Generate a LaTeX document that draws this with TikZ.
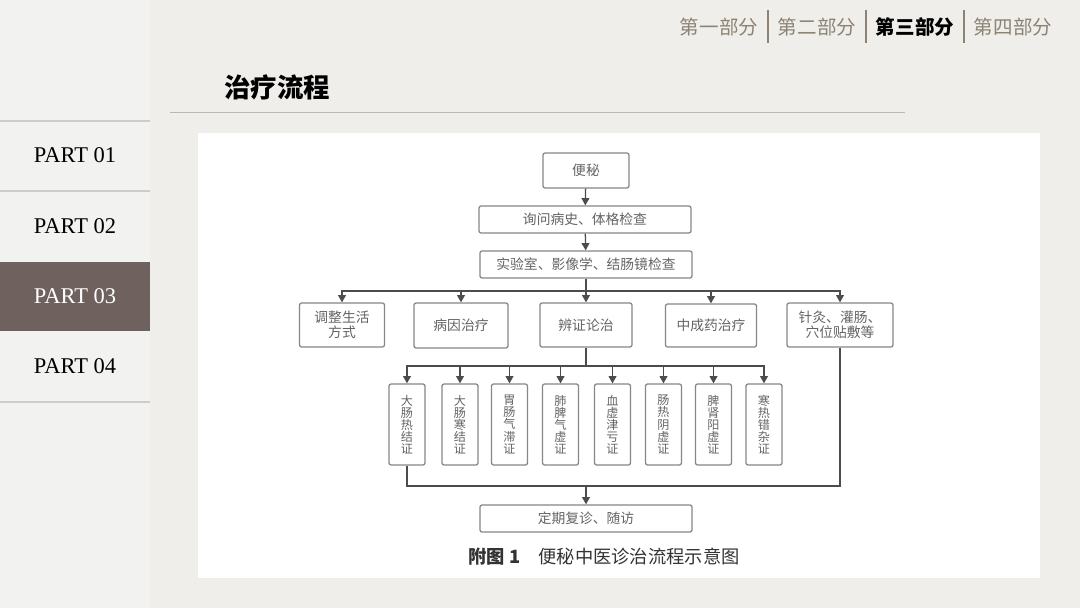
\documentclass[tikz,border=0pt]{standalone}
\usepackage{fontspec}
\setmainfont{Liberation Serif}
\newfontfamily\cjk{Noto Sans CJK SC}
\usepackage{xcolor}
\usetikzlibrary{arrows.meta, positioning, calc}
\definecolor{pagebg}{RGB}{239, 238, 234}
\definecolor{sidebg}{RGB}{242, 242, 241}
\definecolor{navgray}{RGB}{140, 131, 115}
\definecolor{partbrown}{RGB}{111, 97, 94}
\definecolor{rulegray}{RGB}{206, 204, 200}
\definecolor{boxgray}{RGB}{135, 135, 135}
\definecolor{flowtext}{RGB}{100, 100, 100}

\begin{document}
\begin{tikzpicture}[
  x=0.025cm, y=-0.025cm,
  every node/.style={inner sep=0pt},
  nav/.style={font=\cjk\fontsize{13.9}{16}\selectfont, text=navgray},
  part/.style={font=\fontsize{16}{18}\selectfont, text=black},
  flowbox/.style={draw=boxgray, line width=0.9pt, rounded corners=1.5pt, fill=white, align=center, text=flowtext, font=\cjk\fontsize{9.8}{10.5}\selectfont},
  vbox/.style={flowbox, minimum width=0.9cm, minimum height=2.025cm, font=\cjk\fontsize{8.6}{8.6}\selectfont},
  arrow/.style={-{Triangle[length=5.2pt, width=5.6pt]}, line width=0.9pt, draw=black!70},
  link/.style={line width=0.9pt, draw=black!70}
]
  \useasboundingbox (0,0) rectangle (1080,608);
  \fill[pagebg] (0,0) rectangle (1080,608);
  \fill[sidebg] (0,0) rectangle (150,608);

  % Seitenleiste
  \draw[rulegray, line width=1.4pt] (0,121) -- (150,121);
  \draw[rulegray, line width=1.4pt] (0,191) -- (150,191);
  \draw[rulegray, line width=1.4pt] (0,402) -- (150,402);
  \fill[partbrown] (0,262) rectangle (150,331);
  \node[part] (p1) at (75,155) {PART 01};
  \node[part] (p2) at (75,226) {PART 02};
  \node[part, text=white] (p3) at (75,296) {PART 03};
  \node[part] (p4) at (75,366) {PART 04};

  % Navigation
  \node[nav] (n1) at (719,27) {第一部分};
  \node[nav] (n2) at (817,27) {第二部分};
  \node[nav, text=black, font=\cjk\bfseries\fontsize{13.9}{16}\selectfont] (n3) at (915,27) {第三部分};
  \node[nav] (n4) at (1013,27) {第四部分};
  \foreach \sx in {768, 866, 964}
    \draw[navgray, line width=0.8pt] (\sx,10) -- (\sx,43);

  % Titel
  \node[font=\cjk\bfseries\fontsize{18.8}{22}\selectfont] (title) at (277,87) {治疗流程};
  \draw[rulegray!90!black, line width=0.7pt] (170,112) -- (905,112);

  \fill[white] (198,133) rectangle (1040,578);

  % Ablauf
  \node[flowbox, minimum width=2.15cm, minimum height=0.875cm] (start) at (586,170.5) {便秘};
  \node[flowbox, minimum width=5.3cm, minimum height=0.675cm] (history) at (585,219.5) {询问病史、体格检查};
  \node[flowbox, minimum width=5.3cm, minimum height=0.675cm] (exam) at (586,264.5) {实验室、影像学、结肠镜检查};

  \node[flowbox, minimum width=2.125cm, minimum height=1.1cm] (life) at (342,325) {调整生活\\方式};
  \node[flowbox, minimum width=2.35cm, minimum height=1.125cm] (cause) at (461,325.5) {病因治疗};
  \node[flowbox, minimum width=2.3cm, minimum height=1.1cm] (syndrome) at (586,325) {辨证论治};
  \node[flowbox, minimum width=2.275cm, minimum height=1.075cm] (patent) at (711,325.5) {中成药治疗};
  \node[flowbox, minimum width=2.65cm, minimum height=1.1cm] (acu) at (840,325) {针灸、灌肠、\\穴位贴敷等};

  \node[vbox] (s1) at (407,424.5) {大\\肠\\热\\结\\证};
  \node[vbox] (s2) at (460,424.5) {大\\肠\\寒\\结\\证};
  \node[vbox] (s3) at (509.5,424.5) {胃\\肠\\气\\滞\\证};
  \node[vbox] (s4) at (560.5,424.5) {肺\\脾\\气\\虚\\证};
  \node[vbox] (s5) at (612.5,424.5) {血\\虚\\津\\亏\\证};
  \node[vbox] (s6) at (663.5,424.5) {肠\\热\\阴\\虚\\证};
  \node[vbox] (s7) at (713.5,424.5) {脾\\肾\\阳\\虚\\证};
  \node[vbox] (s8) at (764,424.5) {寒\\热\\错\\杂\\证};

  \node[flowbox, minimum width=5.3cm, minimum height=0.675cm] (review) at (586,518.5) {定期复诊、随访};
  \node[font=\cjk\fontsize{13}{15}\selectfont, text=black!80] (caption) at (604,557) {{\bfseries 附图 1}\quad 便秘中医诊治流程示意图};

  % Verbindungen
  \coordinate (split1) at (586,291);
  \coordinate (split2) at (586,366);
  \coordinate (merge) at (586,486);

  \draw[arrow] (start) -- (history);
  \draw[arrow] (history) -- (exam);
  \draw[link] (exam) -- (split1);
  \foreach \t in {life, cause, syndrome, patent, acu}
    \draw[arrow] (split1) -| (\t.north);
  \draw[link] (syndrome) -- (split2);
  \foreach \i in {1,...,8}
    \draw[arrow] (split2) -| (s\i.north);
  \draw[link] (s1.south) |- (merge);
  \draw[link] (acu.south) |- (merge);
  \draw[arrow] (merge) -- (review);

\end{tikzpicture}
\end{document}
